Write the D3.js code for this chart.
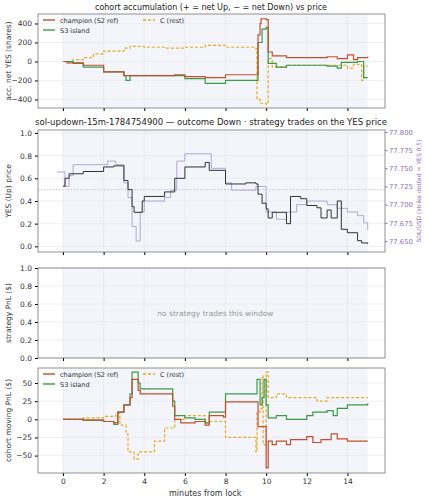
<!DOCTYPE html>
<html><head><meta charset="utf-8">
<script src="https://cdn.jsdelivr.net/npm/d3@7"></script>
<style>body{margin:0;background:#fff}text{font-family:"DejaVu Sans",sans-serif}</style>
</head><body><svg id="c" width="427" height="500"></svg>
<script>
const xTicks=[0,2,4,6,8,10,12,14];
const accChampion=[[0,0],[0.2,-15],[1,-40],[2,-110],[3,-150],[4,-150],[5.5,-140],[6,-160],[7,-170],[8,-140],[9.5,-140],[9.6,280],[9.7,400],[9.75,450],[10,440],[10.1,100],[10.3,60],[11,40],[13,50],[13.5,30],[14,70],[14.3,20],[14.5,40],[15,50]];
const accIsland=[[0,0],[0.5,-20],[1,-60],[2,-110],[3,-150],[3.1,-200],[3.3,-150],[5.5,-150],[6,-180],[7,-230],[8,-200],[9.5,-200],[9.6,200],[9.8,340],[10,360],[10.1,-20],[10.5,-60],[11,-40],[12,-40],[13,-50],[13.5,-70],[13.7,-10],[14.5,0],[14.8,-170],[15,-170]];
const accRest=[[0,0],[0.5,20],[1,40],[1.5,80],[2,110],[3,140],[3.3,160],[4,150],[5,140],[6,150],[7,170],[8,150],[9.5,130],[9.55,-400],[9.7,-440],[10,-450],[10.1,30],[10.3,-60],[11,-40],[12,-40],[13,-40],[14,-70],[14.3,-30],[14.7,-200],[14.8,-50],[15,-50]];
const yesPrice=[[0,0.53],[0.1,0.6],[0.3,0.64],[1,0.66],[2,0.7],[2.5,0.71],[3,0.58],[3.2,0.5],[3.4,0.35],[3.5,0.3],[3.9,0.4],[4,0.44],[5,0.48],[5.5,0.6],[6,0.7],[7,0.74],[7.2,0.67],[8,0.55],[9,0.56],[9.5,0.55],[9.6,0.46],[9.8,0.38],[10,0.33],[10.1,0.25],[10.3,0.3],[11,0.2],[11.2,0.44],[11.7,0.42],[12,0.36],[12.5,0.34],[12.7,0.25],[13,0.32],[13.2,0.25],[13.5,0.4],[13.7,0.15],[14,0.12],[14.5,0.05],[14.7,0.03],[15,0.02]];
const solPrice=[[-0.3,77.745],[0,77.745],[0.1,77.725],[0.3,77.74],[0.5,77.755],[1,77.755],[2,77.755],[2.2,77.76],[2.6,77.755],[3,77.73],[3.2,77.71],[3.4,77.67],[3.6,77.65],[3.8,77.69],[4,77.705],[5,77.71],[5.3,77.72],[5.6,77.76],[6,77.77],[7,77.77],[7.3,77.75],[8,77.73],[8.3,77.72],[9,77.72],[9.5,77.725],[10,77.69],[10.5,77.68],[11,77.69],[11.5,77.70],[12,77.705],[13,77.70],[13.5,77.695],[14,77.69],[14.5,77.685],[14.8,77.675],[15,77.665]];
const pnlChampion=[[0,0],[1,-1],[2,-3],[2.5,-5],[2.7,10],[3,20],[3.3,30],[3.4,55],[3.7,40],[3.8,35],[5.4,18],[5.5,0],[5.8,-5],[6.5,-3],[7,-8],[7.2,5],[7.9,3],[8,24],[9.5,24],[9.6,-10],[9.9,-10],[10,-67],[10.1,-30],[10.3,-35],[10.5,-30],[11,-35],[11.2,-28],[12,-24],[12.3,-32],[12.7,-28],[13.2,-20],[13.5,-27],[14,-30],[15,-30]];
const pnlIsland=[[0,0],[1,-1],[2,-3],[2.5,-7],[2.7,10],[3,20],[3.3,35],[3.4,65],[3.7,50],[3.8,42],[5.4,25],[5.5,5],[6,2],[6.5,0],[7,-5],[7.2,10],[8,35],[9.5,35],[9.55,55],[9.7,20],[9.8,30],[9.9,55],[10,20],[10.1,2],[10.5,5],[11,0],[12,5],[12.3,10],[13,12],[13.3,5],[13.5,15],[14,20],[15,22]];
const pnlRest=[[0,0],[1,2],[2,4],[2.6,8],[2.8,-8],[3.1,-20],[3.2,-45],[3.5,-55],[3.7,-45],[4.5,-30],[5,-12],[5.5,0],[6,5],[7,-5],[7.2,-3],[8,-25],[9.3,-25],[9.5,-45],[9.55,10],[9.7,15],[9.8,60],[9.85,-35],[10,65],[10.1,30],[10.5,35],[11,30],[12,30],[12.5,25],[13,30],[14,30],[15,30]];
const RED="#c0502e",GREEN="#3a9a4a",ORANGE="#e8a820",DARK="#333",PURP="#b5a5d5";
const svg=d3.select("#c");
const L=38,R=385;
const x=d3.scaleLinear().domain([-1.23,15.85]).range([L,R]);
function panel(top,bot,ydom,yticks,ylabel,showX){
  const y=d3.scaleLinear().domain(ydom).range([bot,top]);
  const g=svg.append("g");
  g.append("rect").attr("x",x(0)).attr("y",top).attr("width",x(15)-x(0)).attr("height",bot-top).attr("fill","#f3f5fa");
  xTicks.forEach(t=>g.append("line").attr("x1",x(t)).attr("x2",x(t)).attr("y1",top).attr("y2",bot).attr("stroke","#e4e6ea").attr("stroke-width",0.6));
  yticks.forEach(t=>g.append("line").attr("x1",L).attr("x2",R).attr("y1",y(t)).attr("y2",y(t)).attr("stroke","#e4e6ea").attr("stroke-width",0.6));
  const ax=g.append("g").attr("transform",`translate(${L},0)`).call(d3.axisLeft(y).tickValues(yticks).tickSize(3).tickFormat(d=>String(d).replace("-","−")));
  ax.selectAll("text").attr("font-size",7.5).attr("fill","#333");ax.select(".domain").remove();
  const bx=g.append("g").attr("transform",`translate(0,${bot})`).call(d3.axisBottom(x).tickValues(xTicks).tickSize(3));
  bx.select(".domain").remove();
  if(showX) bx.selectAll("text").attr("font-size",7.5).attr("fill","#333"); else bx.selectAll("text").remove();
  g.append("text").attr("transform",`translate(11,${(top+bot)/2}) rotate(-90)`).attr("text-anchor","middle").attr("font-size",7.5).attr("fill","#333").text(ylabel);
  return {y,g,top,bot};
}
function frame(p){svg.append("rect").attr("x",L).attr("y",p.top).attr("width",R-L).attr("height",p.bot-p.top).attr("fill","none").attr("stroke","#777").attr("stroke-width",0.8);}
function step(p,data,yScale,color,dash,w){
  const line=d3.line().x(d=>x(d[0])).y(d=>yScale(d[1])).curve(d3.curveStepAfter);
  p.g.append("path").datum(data).attr("d",line).attr("fill","none").attr("stroke",color).attr("stroke-width",w||1.2).attr("stroke-dasharray",dash||null);
}
function legend(p){
  const lg=p.g.append("g").attr("transform",`translate(${L+5},${p.top+6})`);
  const items=[[RED,null,"champion (S2 ref)",0,0],[GREEN,null,"S3 island",0,10],[ORANGE,"3,2","C (rest)",100,0]];
  items.forEach(([c,da,t,dx,dy])=>{lg.append("line").attr("x1",dx).attr("x2",dx+12).attr("y1",dy).attr("y2",dy).attr("stroke",c).attr("stroke-width",1.4).attr("stroke-dasharray",da);
    lg.append("text").attr("x",dx+17).attr("y",dy+2.5).attr("font-size",6.5).attr("fill","#333").text(t);});
}
svg.append("text").attr("x",211).attr("y",10).attr("text-anchor","middle").attr("font-size",8).attr("fill","#222").text("cohort accumulation (+ = net Up, − = net Down) vs price");
const p1=panel(14,108,[-490,500],[-400,-200,0,200,400],"acc. net YES (shares)",false);
step(p1,accRest,p1.y,ORANGE,"3,2");step(p1,accIsland,p1.y,GREEN);step(p1,accChampion,p1.y,RED);
legend(p1);frame(p1);
svg.append("text").attr("x",211).attr("y",125).attr("text-anchor","middle").attr("font-size",8.5).attr("fill","#222").text("sol-updown-15m-1784754900 — outcome Down · strategy trades on the YES price");
const p2=panel(130,252,[-0.05,1.026],[0,0.2,0.4,0.6,0.8,1.0],"YES (Up) price",false);
p2.g.select("g").selectAll("text").text(d=>d3.format(".1f")(d));
const yR=d3.scaleLinear().domain([77.635,77.8027]).range([252,130]);
p2.g.append("line").attr("x1",L).attr("x2",R).attr("y1",p2.y(0.5)).attr("y2",p2.y(0.5)).attr("stroke","#bbb").attr("stroke-dasharray","1.5,1.5").attr("stroke-width",0.8);
step(p2,solPrice,yR,PURP,null,1);
step(p2,yesPrice,p2.y,DARK,null,1);
const ra=svg.append("g").attr("transform",`translate(${R},0)`).call(d3.axisRight(yR).tickValues([77.65,77.675,77.7,77.725,77.75,77.775,77.8]).tickSize(2.5).tickPadding(1.5).tickFormat(d3.format(".3f")));
ra.select(".domain").remove();ra.selectAll("text").attr("font-size",6.8).attr("fill","#8a70b8");ra.selectAll("line").attr("stroke","#8a70b8");
svg.append("text").attr("transform",`translate(421,191) rotate(-90)`).attr("text-anchor","middle").attr("font-size",6).attr("fill","#8a70b8").text("SOL/USD (strike dotted = YES 0.5)");
frame(p2);
const p3=panel(268,358,[0,1.0],[0,0.2,0.4,0.6,0.8,1.0],"strategy PnL ($)",false);
p3.g.select("g").selectAll("text").text(d=>d3.format(".1f")(d));
p3.g.append("text").attr("x",x(7.5)).attr("y",316).attr("text-anchor","middle").attr("font-size",7.5).attr("fill","#999").text("no strategy trades this window");
frame(p3);
const p4=panel(368,473,[-74,70.7],[-50,-25,0,25,50],"cohort moving PnL ($)",true);
step(p4,pnlRest,p4.y,ORANGE,"3,2");step(p4,pnlIsland,p4.y,GREEN);step(p4,pnlChampion,p4.y,RED);
legend(p4);frame(p4);
svg.append("text").attr("x",x(7)).attr("y",496).attr("text-anchor","middle").attr("font-size",8).attr("fill","#333").text("minutes from lock");
</script></body></html>
